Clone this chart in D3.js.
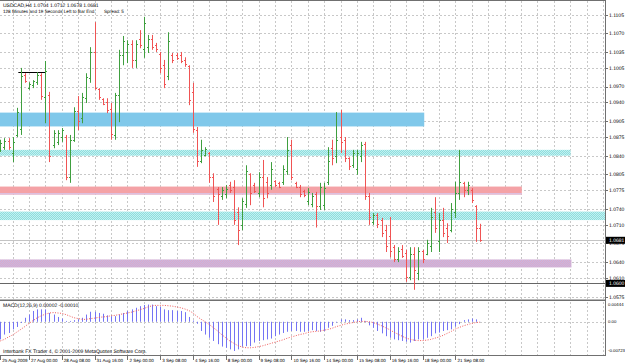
<!DOCTYPE html>
<html>
<head>
<meta charset="utf-8">
<script src="https://cdn.jsdelivr.net/npm/d3@7"></script>
<style>
body { margin: 0; background: #fff; }
text { font-family: 'Liberation Sans', Arial, sans-serif; font-size: 5px; fill: #000; text-rendering: geometricPrecision; }
text.date { font-size: 4.5px; }
text.head2 { font-size: 4.6px; }
text.macdax { font-size: 4.3px; }
</style>
</head>
<body>
<div id="chart"></div>
<script>
// USDCAD H4 bars
var barOpen = [1.0851,1.0856,1.0868,1.0845,1.0878,1.0890,1.0992,1.0968,1.0972,1.0978,
  1.0992,1.0950,1.0955,1.0860,1.0866,1.0875,1.0875,1.0800,1.0870,1.0924,
  1.0910,1.0948,1.0986,1.1035,1.0966,1.0946,1.0940,1.0928,1.0878,1.0955,
  1.1030,1.1035,1.1050,1.1020,1.1060,1.1040,1.1045,1.1060,1.1048,1.1032,
  1.1010,1.0990,1.1030,1.1030,1.1030,1.1020,1.1008,1.0960,1.0888,1.0830,
  1.0842,1.0845,1.0800,1.0778,1.0765,1.0768,1.0785,1.0782,1.0735,1.0710,
  1.0750,1.0805,1.0785,1.0770,1.0800,1.0790,1.0785,1.0792,1.0789,1.0790,
  1.0812,1.0860,1.0789,1.0782,1.0774,1.0755,1.0750,1.0768,1.0745,1.0748,
  1.0790,1.0855,1.0840,1.0875,1.0870,1.0835,1.0822,1.0815,1.0840,1.0862,
  1.0765,1.0715,1.0728,1.0720,1.0700,1.0690,1.0668,1.0645,1.0665,1.0658,
  1.0612,1.0655,1.0620,1.0660,1.0655,1.0670,1.0735,1.0680,1.0720,1.0705,
  1.0700,1.0735,1.0770,1.0788,1.0775,1.0776,1.0745,1.0704];
var barHigh = [1.0870,1.0873,1.0873,1.0875,1.0930,1.1005,1.0995,1.0978,1.0982,1.0997,
  1.0995,1.1018,1.0960,1.0888,1.0888,1.0892,1.0879,1.0879,1.0931,1.0952,
  1.0958,1.0995,1.1044,1.1091,1.0967,1.0948,1.0948,1.0939,1.0958,1.1039,
  1.1065,1.1057,1.1057,1.1057,1.1076,1.1101,1.1067,1.1067,1.1052,1.1035,
  1.1020,1.1072,1.1033,1.1033,1.1035,1.1025,1.1010,1.0977,1.0894,1.0870,
  1.0856,1.0847,1.0807,1.0781,1.0781,1.0785,1.0791,1.0794,1.0743,1.0760,
  1.0822,1.0807,1.0789,1.0809,1.0832,1.0800,1.0828,1.0794,1.0791,1.0822,
  1.0875,1.0870,1.0791,1.0785,1.0776,1.0779,1.0770,1.0772,1.0789,1.0789,
  1.0856,1.0870,1.0922,1.0926,1.0875,1.0837,1.0851,1.0851,1.0866,1.0866,
  1.0770,1.0732,1.0732,1.0723,1.0710,1.0725,1.0672,1.0668,1.0672,1.0663,
  1.0668,1.0668,1.0668,1.0663,1.0682,1.0742,1.0762,1.0732,1.0742,1.0713,
  1.0751,1.0791,1.0851,1.0791,1.0791,1.0779,1.0747,1.0712];
var barLow = [1.0847,1.0851,1.0851,1.0828,1.0875,1.0879,1.0977,1.0964,1.0967,1.0973,
  1.0945,1.0901,1.0828,1.0854,1.0860,1.0866,1.0794,1.0789,1.0866,1.0888,
  1.0901,1.0939,1.0977,1.0964,1.0945,1.0935,1.0920,1.0870,1.0870,1.0903,
  1.1010,1.1014,1.1005,1.1005,1.1042,1.1024,1.1033,1.1039,1.1035,1.0995,
  1.0967,1.0982,1.1014,1.1020,1.1014,1.1007,1.0935,1.0883,1.0819,1.0826,
  1.0839,1.0789,1.0753,1.0710,1.0757,1.0760,1.0770,1.0710,1.0672,1.0700,
  1.0742,1.0747,1.0770,1.0762,1.0743,1.0760,1.0776,1.0781,1.0779,1.0785,
  1.0804,1.0794,1.0779,1.0762,1.0762,1.0747,1.0743,1.0705,1.0738,1.0738,
  1.0785,1.0822,1.0826,1.0845,1.0828,1.0813,1.0817,1.0804,1.0828,1.0757,
  1.0710,1.0710,1.0704,1.0687,1.0659,1.0649,1.0640,1.0640,1.0648,1.0603,
  1.0606,1.0588,1.0606,1.0638,1.0653,1.0659,1.0695,1.0659,1.0687,1.0676,
  1.0696,1.0723,1.0757,1.0762,1.0766,1.0751,1.0678,1.0678];
var barClose = [1.0864,1.0868,1.0856,1.0866,1.0922,1.0990,1.0980,1.0975,1.0980,1.0992,
  1.0952,1.1000,1.0840,1.0882,1.0883,1.0888,1.0800,1.0870,1.0924,1.0905,
  1.0950,1.0988,1.1035,1.0968,1.0950,1.0938,1.0925,1.0880,1.0955,1.1030,
  1.1055,1.1050,1.1020,1.1050,1.1048,1.1090,1.1060,1.1045,1.1040,1.1005,
  1.0975,1.1055,1.1020,1.1024,1.1018,1.1012,1.0945,1.0890,1.0830,1.0850,
  1.0852,1.0800,1.0765,1.0768,1.0776,1.0778,1.0776,1.0720,1.0700,1.0755,
  1.0812,1.0770,1.0774,1.0800,1.0760,1.0770,1.0815,1.0785,1.0782,1.0815,
  1.0850,1.0800,1.0782,1.0768,1.0766,1.0772,1.0765,1.0745,1.0782,1.0780,
  1.0830,1.0835,1.0870,1.0865,1.0835,1.0820,1.0845,1.0845,1.0860,1.0765,
  1.0725,1.0728,1.0712,1.0695,1.0670,1.0660,1.0645,1.0660,1.0652,1.0612,
  1.0655,1.0625,1.0660,1.0645,1.0675,1.0725,1.0705,1.0720,1.0695,1.0690,
  1.0740,1.0770,1.0790,1.0775,1.0785,1.0757,1.0705,1.0681];

// MACD(12,26,9), in units of 0.0001
var macdMain = [-44,-32,-28,-19,-13,-3,10,18,27,31,
  31,31,22,18,12,8,2,2,4,6,
  10,18,25,25,22,20,16,14,14,18,
  22,27,31,35,39,42,43,43,39,37,
  31,29,29,27,27,24,12,3,-5,-23,
  -32,-40,-48,-56,-62,-65,-69,-73,-69,-62,
  -61,-61,-52,-48,-46,-44,-42,-36,-32,-28,
  -25,-23,-23,-25,-25,-23,-21,-23,-25,-23,
  -15,-10,-2,6,6,4,4,6,10,2,
  -9,-15,-23,-29,-36,-40,-44,-46,-48,-50,
  -52,-48,-44,-44,-40,-36,-29,-27,-23,-21,
  -19,-12,-6,4,6,8,6,0.2];
var macdSignal = [-48,-44,-38,-33,-26,-19,-12,-4,3,10,
  15,19,22,23,22,21,18,14,10,8,
  6,6,8,9,11,12,13,15,16,18,
  20,22,24,27,30,33,37,40,41,41,
  41,40,39,37,35,32,28,22,13,6,
  0,-7,-15,-23,-32,-40,-48,-54,-60,-63,
  -65,-65,-64,-62,-60,-57,-54,-51,-48,-45,
  -41,-38,-35,-32,-30,-27,-25,-24,-23,-21,
  -19,-16,-12,-9,-6,-4,-2,0,1,1,
  0,-2,-6,-10,-15,-20,-26,-31,-36,-41,
  -44,-46,-47,-47,-46,-44,-41,-38,-34,-29,
  -24,-18,-14,-10,-7,-4,-2,-1];

var priceTicks = ["1.1105","1.1070","1.1035","1.1005","1.0970","1.0940","1.0905","1.0875",
  "1.0840","1.0805","1.0775","1.0740","1.0710","1.0675","1.0640","1.0610","1.0575"];
var macdTicks = ["0.00444","0.00","-0.00723"];

var dateLabels = ["25 Aug 2009","27 Aug 00:00","28 Aug 08:00","31 Aug 16:00","2 Sep 00:00",
  "3 Sep 08:00","4 Sep 16:00","8 Sep 00:00","9 Sep 08:00","10 Sep 16:00","14 Sep 00:00",
  "15 Sep 08:00","16 Sep 16:00","18 Sep 00:00","21 Sep 08:00"];
var dateIndex = [0,7,15,23,31,39,47,55,63,71,79,87,95,103,111];

// zones drawn on the chart: price top, price bottom, last bar (null = to the edge)
var zoneTop = [1.0921, 1.0851, 1.0782, 1.0735, 1.0645];
var zoneBottom = [1.0895, 1.0840, 1.0767, 1.0719, 1.0630];
var zoneEnd = [103.4, 139.1, 127.2, null, 139.3];
var zoneFill = ["#80c8ea", "url(#hatchCyan)", "#f4a2a6", "url(#hatchCyan)", "url(#hatchLilac)"];

var lineLevel = 1.0600;      // horizontal line
var bidPrice = 1.0681;
var trendStart = 4.4, trendEnd = 11.15, trendPrice = 1.0997;

var header1 = "USDCAD,H4  1.0704 1.0712 1.0678 1.0681";
var header2 = "128 Minutes and 19 Seconds Left to Bar End.";
var spreadText = "Spread: 5";
var macdTitle = "MACD(12,26,9) 0.00002 -0.00010";
var copyright = "Interbank FX Trader 4, \u00a9 2001-2009 MetaQuotes Software Corp.";

var width = 625, height = 364;
var plotRight = 605;
var mainBottom = 299, macdTop = 301, macdBottom = 355;

var x = d3.scaleLinear().domain([0, 117]).range([0.3, 0.3 + 4.1 * 117]);
var y = d3.scaleLinear().domain([1.0575, 1.1105]).range([296.7, 14.7]);
var ym = d3.scaleLinear().domain([-0.00723, 0.00444]).range([350.7, 304]);

var px = function(i) { return Math.round(x(i)) + 0.5; };

var svg = d3.select("#chart").append("svg")
  .attr("width", width)
  .attr("height", height);

svg.append("rect").attr("width", width).attr("height", height).attr("fill", "#fff");

var defs = svg.append("defs");
var pc = defs.append("pattern").attr("id", "hatchCyan")
  .attr("width", 2).attr("height", 2).attr("patternUnits", "userSpaceOnUse");
pc.append("rect").attr("width", 2).attr("height", 2).attr("fill", "#8cdede");
pc.append("rect").attr("width", 1).attr("height", 1).attr("fill", "#c4f0f0");
pc.append("rect").attr("x", 1).attr("y", 1).attr("width", 1).attr("height", 1).attr("fill", "#c4f0f0");
var pl = defs.append("pattern").attr("id", "hatchLilac")
  .attr("width", 2).attr("height", 2).attr("patternUnits", "userSpaceOnUse");
pl.append("rect").attr("width", 2).attr("height", 2).attr("fill", "#dcaac8");
pl.append("rect").attr("width", 1).attr("height", 1).attr("fill", "#c6b6e2");
pl.append("rect").attr("x", 1).attr("y", 1).attr("width", 1).attr("height", 1).attr("fill", "#c6b6e2");

defs.append("clipPath").attr("id", "clipMain").append("rect")
  .attr("width", plotRight).attr("height", mainBottom);
defs.append("clipPath").attr("id", "clipMacd").append("rect")
  .attr("y", macdTop).attr("width", plotRight).attr("height", macdBottom - macdTop);

// grid
var gridIdx = d3.range(3, 150, 4);
var grid = svg.append("g").attr("stroke", "#c8c8c8").attr("stroke-dasharray", "2,2").attr("fill", "none");
grid.selectAll(".gv").data(gridIdx).enter().append("line")
  .attr("x1", px).attr("x2", px).attr("y1", 1).attr("y2", mainBottom);
grid.selectAll(".gvm").data(gridIdx).enter().append("line")
  .attr("x1", px).attr("x2", px).attr("y1", macdTop + 1).attr("y2", macdBottom);
grid.selectAll(".gh").data(priceTicks).enter().append("line")
  .attr("x1", 0).attr("x2", plotRight)
  .attr("y1", function(d) { return Math.round(y(+d)) + 0.5; })
  .attr("y2", function(d) { return Math.round(y(+d)) + 0.5; });
grid.append("line").attr("x1", 0).attr("x2", plotRight)
  .attr("y1", Math.round(ym(0)) + 0.5).attr("y2", Math.round(ym(0)) + 0.5);

// main pane
var main = svg.append("g").attr("clip-path", "url(#clipMain)");

main.selectAll(".zone").data(zoneTop).enter().append("rect")
  .attr("x", 0)
  .attr("y", function(d) { return y(d); })
  .attr("width", function(d, i) { return zoneEnd[i] == null ? plotRight : x(zoneEnd[i]); })
  .attr("height", function(d, i) { return y(zoneBottom[i]) - y(d); })
  .attr("fill", function(d, i) { return zoneFill[i]; });
// lilac edge under the pink zone
main.append("rect").attr("x", 0).attr("y", y(zoneBottom[2]) - 1.5)
  .attr("width", x(zoneEnd[2])).attr("height", 1.5).attr("fill", "#dcc2e2");

main.append("line").attr("x1", 0).attr("x2", plotRight)
  .attr("y1", Math.round(y(bidPrice)) + 0.5).attr("y2", Math.round(y(bidPrice)) + 0.5)
  .attr("stroke", "#c4c4c4");
main.append("line").attr("x1", 0).attr("x2", plotRight)
  .attr("y1", Math.round(y(lineLevel)) + 0.5).attr("y2", Math.round(y(lineLevel)) + 0.5)
  .attr("stroke", "#666");
main.append("line").attr("x1", x(trendStart)).attr("x2", x(trendEnd))
  .attr("y1", Math.round(y(trendPrice)) + 0.5).attr("y2", Math.round(y(trendPrice)) + 0.5)
  .attr("stroke", "#000");

var bars = main.selectAll(".bar").data(barOpen).enter().append("g")
  .attr("stroke", function(d, i) { return barClose[i] >= d ? "#3f9f3f" : "#f05454"; });
bars.append("line")
  .attr("x1", function(d, i) { return px(i); })
  .attr("x2", function(d, i) { return px(i); })
  .attr("y1", function(d, i) { return y(barHigh[i]) ; })
  .attr("y2", function(d, i) { return y(barLow[i]); });
bars.append("line")
  .attr("x1", function(d, i) { return px(i) - 1.5; })
  .attr("x2", function(d, i) { return px(i); })
  .attr("y1", function(d) { return Math.round(y(d)) + 0.5; })
  .attr("y2", function(d) { return Math.round(y(d)) + 0.5; });
bars.append("line")
  .attr("x1", function(d, i) { return px(i); })
  .attr("x2", function(d, i) { return px(i) + 1.5; })
  .attr("y1", function(d, i) { return Math.round(y(barClose[i])) + 0.5; })
  .attr("y2", function(d, i) { return Math.round(y(barClose[i])) + 0.5; });

// macd pane
var macd = svg.append("g").attr("clip-path", "url(#clipMacd)");
macd.selectAll(".hist").data(macdMain).enter().append("line")
  .attr("x1", function(d, i) { return px(i); })
  .attr("x2", function(d, i) { return px(i); })
  .attr("y1", ym(0))
  .attr("y2", function(d) { return ym(d / 10000); })
  .attr("stroke", "#7474f4");
macd.append("path")
  .datum(macdSignal)
  .attr("d", d3.line()
    .x(function(d, i) { return x(i); })
    .y(function(d) { return ym(d / 10000); }))
  .attr("fill", "none")
  .attr("stroke", "#f05a5a")
  .attr("stroke-dasharray", "1,1.5");

// frames
var frame = svg.append("g").attr("fill", "none").attr("stroke", "#707070");
frame.append("line").attr("x1", 0).attr("x2", plotRight).attr("y1", 0.5).attr("y2", 0.5);
frame.append("rect").attr("x", 0).attr("y", mainBottom + 0.5).attr("width", plotRight).attr("height", 1.5)
  .attr("fill", "#707070").attr("stroke", "none");
frame.append("line").attr("x1", 0).attr("x2", plotRight).attr("y1", macdBottom + 0.5).attr("y2", macdBottom + 0.5);
frame.append("line").attr("x1", plotRight + 0.5).attr("x2", plotRight + 0.5).attr("y1", 0).attr("y2", macdBottom + 1);

// right axis labels
var ax = svg.append("g");
ax.selectAll(".pt").data(priceTicks).enter().append("line")
  .attr("x1", plotRight).attr("x2", plotRight + 3)
  .attr("y1", function(d) { return Math.round(y(+d)) + 0.5; })
  .attr("y2", function(d) { return Math.round(y(+d)) + 0.5; })
  .attr("stroke", "#707070");
ax.selectAll(".ptl").data(priceTicks).enter().append("text")
  .attr("x", plotRight + 4)
  .attr("y", function(d) { return y(+d) + 1.8; })
  .text(function(d) { return d; });
ax.selectAll(".mt").data(macdTicks).enter().append("text")
  .attr("class", "macdax")
  .attr("x", plotRight + 3)
  .attr("y", function(d) { return ym(+d) + 1.6; })
  .text(function(d) { return d; });

[bidPrice, lineLevel].forEach(function(v) {
  ax.append("rect").attr("x", plotRight + 1).attr("y", y(v) - 3.5)
    .attr("width", width - plotRight - 1).attr("height", 7).attr("fill", "#000");
  ax.append("text").attr("x", plotRight + 4).attr("y", y(v) + 1.8)
    .style("fill", "#fff").text(v.toFixed(4));
});

// time axis
var tx = svg.append("g");
tx.selectAll(".dt").data(dateIndex).enter().append("line")
  .attr("x1", px).attr("x2", px)
  .attr("y1", macdBottom + 1).attr("y2", macdBottom + 5)
  .attr("stroke", "#707070");
tx.selectAll(".dl").data(dateIndex).enter().append("text")
  .attr("class", "date")
  .attr("x", function(d) { return x(d) + 2; })
  .attr("y", 361.5)
  .text(function(d, i) { return dateLabels[i]; });

// captions
svg.append("text").attr("x", 3).attr("y", 6.5).text(header1);
svg.append("text").attr("class", "head2").attr("x", 3).attr("y", 12.5).text(header2);
svg.append("text").attr("class", "head2").attr("x", 104).attr("y", 12.5).text(spreadText);
svg.append("text").attr("x", 3).attr("y", 306.8).text(macdTitle);
svg.append("text").attr("x", 3).attr("y", 352.5).text(copyright);
</script>
</body>
</html>
